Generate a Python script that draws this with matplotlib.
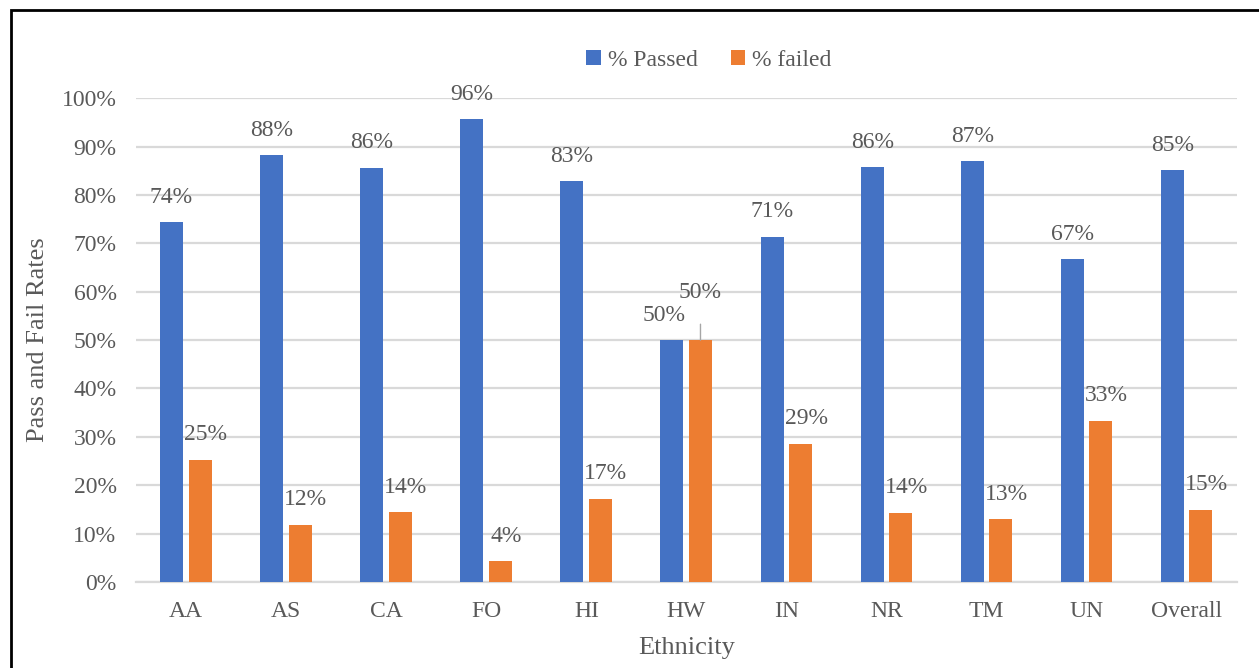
import numpy as np
import matplotlib
matplotlib.use("Agg")
import matplotlib.pyplot as plt
from matplotlib.patches import Rectangle

plt.rcParams['font.family'] = ['Liberation Serif', 'DejaVu Serif']

ethnicity = ["AA", "AS", "CA", "FO", "HI", "HW", "IN", "NR", "TM", "UN", "Overall"]
pct_passed = [74.4, 88.2, 85.6, 95.7, 82.8, 50.0, 71.4, 85.7, 87.0, 66.7, 85.1]
pct_failed = [25.3, 11.8, 14.4, 4.3, 17.2, 50.0, 28.6, 14.3, 13.0, 33.3, 14.9]
yticks = [0, 10, 20, 30, 40, 50, 60, 70, 80, 90, 100]

blue = "#4472C4"
orange = "#ED7D31"
txt = "#595959"
fs = 17

fig = plt.figure(figsize=(12.59, 6.68), dpi=100)
ax = fig.add_axes([0.108, 0.1287, 0.8745, 0.7243])

x = np.arange(len(ethnicity))
w = 0.23
b1 = ax.bar(x - 0.145, pct_passed, w, color=blue, label="% Passed", zorder=3)
b2 = ax.bar(x + 0.14, pct_failed, w, color=orange, label="% failed", zorder=3)

for i, v in enumerate(pct_passed):
    dx = -6 if ethnicity[i] == "HW" else 0
    ax.annotate(f"{v:.0f}%", (x[i] - 0.145, v), xytext=(dx, 18), textcoords="offset points",
                ha="center", va="center", fontsize=fs, color=txt)
for i, v in enumerate(pct_failed):
    if ethnicity[i] == "HW":
        ax.annotate(f"{v:.0f}%", (x[i] + 0.14, v), xytext=(0, 34), textcoords="offset points",
                    ha="center", va="center", fontsize=fs, color=txt,
                    arrowprops=dict(arrowstyle="-", color="#A6A6A6", lw=1,
                                    shrinkA=13, shrinkB=0))
    else:
        ax.annotate(f"{v:.0f}%", (x[i] + 0.14, v), xytext=(4, 18), textcoords="offset points",
                    ha="center", va="center", fontsize=fs, color=txt)

ax.set_xlim(-0.5, len(ethnicity) - 0.5)
ax.set_ylim(0, 100)
ax.set_yticks(yticks)
ax.set_yticklabels([f"{t}%" for t in yticks])
ax.set_xticks(x)
ax.set_xticklabels(ethnicity)
ax.tick_params(axis="both", length=0, labelsize=fs, colors=txt)
ax.tick_params(axis="x", pad=14)
ax.tick_params(axis="y", pad=14)
ax.grid(axis="y", color="#D9D9D9", lw=1.6, zorder=0)
for s in ["top", "right", "left"]:
    ax.spines[s].set_visible(False)
ax.spines["bottom"].set_color("#D9D9D9")
ax.spines["bottom"].set_linewidth(1.6)

ax.set_xlabel("Ethnicity", fontsize=19, color=txt, va="center")
ax.set_ylabel("Pass and Fail Rates", fontsize=19, color=txt, va="center")
ax.xaxis.set_label_coords(0.5, -0.136)
ax.yaxis.set_label_coords(-0.089, 0.5)

fig.legend(handles=[b1, b2], loc="center", bbox_to_anchor=(0.563, 0.91), ncol=2,
           frameon=False, fontsize=fs, labelcolor=txt, handlelength=0.6, handleheight=0.6,
           handletextpad=0.3, columnspacing=1.4)

# outer frame
fig.patches.append(Rectangle((11 / 1259, -0.1), 1.2, 0.1 + (668 - 10) / 668,
                             transform=fig.transFigure, fill=False, ec="black", lw=2))

fig.savefig("out.png", dpi=100)
